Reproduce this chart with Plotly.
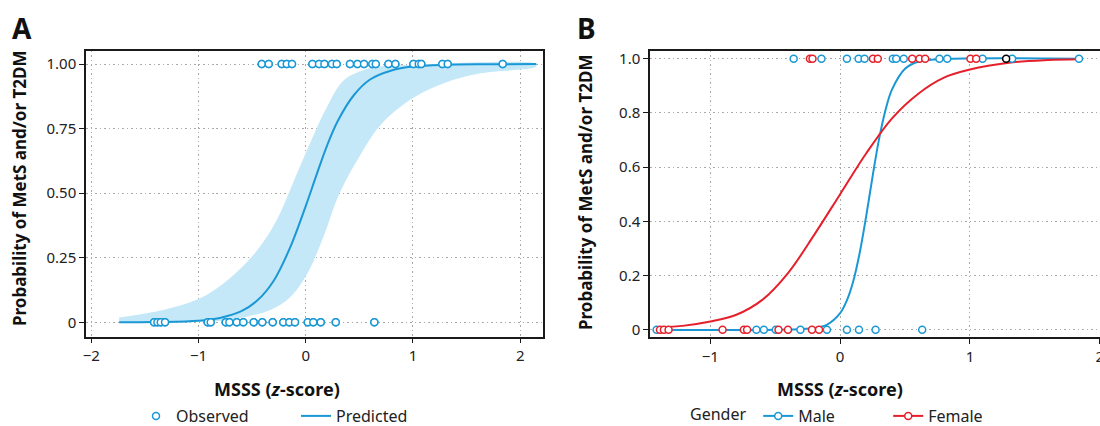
import plotly.graph_objects as go

# ---------------- Panel A data ----------------
obs_top_x = [-0.410, -0.345, -0.224, -0.177, -0.128, 0.062, 0.124, 0.174, 0.245, 0.289,
             0.413, 0.482, 0.544, 0.621, 0.653, 0.771, 0.836, 1.004, 1.054, 1.078,
             1.274, 1.324, 1.837]
obs_bot_x = [-1.414, -1.383, -1.352, -1.312, -0.914, -0.886, -0.746, -0.712, -0.643, -0.582,
             -0.485, -0.405, -0.308, -0.209, -0.153, -0.100, 0.019, 0.071, 0.140, 0.280, 0.640]

pred_x = [-1.74, -1.4, -1.0, -0.8, -0.6, -0.45, -0.3, -0.15, 0.0, 0.1, 0.2, 0.3, 0.45,
          0.6, 0.8, 1.0, 1.3, 1.7, 2.15]
pred_y = [0.000, 0.001, 0.006, 0.017, 0.043, 0.085, 0.160, 0.285, 0.450, 0.570, 0.685,
          0.780, 0.880, 0.940, 0.975, 0.990, 0.997, 0.999, 1.000]

band_up_x = [-1.74, -1.33, -0.99, -0.71, -0.46, -0.27, -0.12, 0.04, 0.20, 0.35, 0.51, 0.69, 1.0, 2.15]
band_up_y = [0.019, 0.048, 0.092, 0.170, 0.275, 0.396, 0.538, 0.693, 0.835, 0.935, 0.972, 0.990, 0.997, 1.0]
band_lo_x = [-1.74, -0.86, -0.55, -0.33, -0.15, 0.01, 0.16, 0.31, 0.50, 0.70, 1.0, 1.32, 1.63, 2.15]
band_lo_y = [0.0, 0.004, 0.022, 0.048, 0.095, 0.185, 0.325, 0.495, 0.641, 0.765, 0.868, 0.930, 0.964, 0.990]

# ---------------- Panel B data ----------------
male_top_x = [-0.358, -0.144, 0.052, 0.142, 0.188, 0.406, 0.432, 0.490, 0.765, 0.825, 1.097, 1.325, 1.840]
male_bot_x = [-1.414, -0.645, -0.588, -0.496, -0.306, -0.102, 0.052, 0.145, 0.273, 0.632]
fem_top_x = [-0.233, -0.213, 0.253, 0.290, 0.555, 0.611, 0.655, 1.004, 1.048, 1.279]
fem_bot_x = [-1.388, -1.358, -1.322, -0.906, -0.742, -0.717, -0.475, -0.402, -0.217, -0.163]

male_fit_x = [-1.414, -0.4, -0.2, -0.1, 0.0, 0.05, 0.1, 0.15, 0.2, 0.25, 0.3, 0.35, 0.4, 0.5, 0.6, 0.8, 1.84]
male_fit_y = [0.0, 0.0005, 0.006, 0.019, 0.061, 0.106, 0.177, 0.282, 0.417, 0.566, 0.704, 0.812,
              0.887, 0.963, 0.989, 0.999, 1.0]
fem_fit_x = [-1.414, -1.2, -1.0, -0.8, -0.6, -0.4, -0.2, 0.0, 0.2, 0.4, 0.6, 0.8, 1.0, 1.3, 1.6, 1.84]
fem_fit_y = [0.008, 0.015, 0.030, 0.055, 0.110, 0.210, 0.350, 0.500, 0.650, 0.780, 0.870, 0.930,
             0.960, 0.985, 0.995, 0.998]

x_ticks = [-2, -1, 0, 1, 2]
x_ticktext = ["\u22122", "\u22121", "0", "1", "2"]
a_yticks = [0, 0.25, 0.5, 0.75, 1.0]
a_yticktext = ["0", "0.25", "0.50", "0.75", "1.00"]
b_yticks = [0, 0.2, 0.4, 0.6, 0.8, 1.0]
b_yticktext = ["0", "0.2", "0.4", "0.6", "0.8", "1.0"]

BLUE = "#1a98d5"
BAND = "#c5e8f8"
RED = "#e5202b"
FONT = "Noto Sans"

fig = go.Figure()

# Panel A
fig.add_trace(go.Scatter(
    x=band_up_x + band_lo_x[::-1], y=band_up_y + band_lo_y[::-1],
    mode="lines", fill="toself", fillcolor=BAND, line=dict(width=0, shape="spline"),
    hoverinfo="skip", showlegend=False, xaxis="x", yaxis="y"))
fig.add_trace(go.Scatter(
    x=obs_bot_x + obs_top_x, y=[0] * len(obs_bot_x) + [1] * len(obs_top_x),
    mode="markers", name="Observed",
    marker=dict(symbol="circle", size=7, color="white", line=dict(color=BLUE, width=1.5)),
    xaxis="x", yaxis="y", legend="legend"))
fig.add_trace(go.Scatter(
    x=pred_x, y=pred_y, mode="lines", name="Predicted",
    line=dict(color=BLUE, width=2, shape="spline"),
    xaxis="x", yaxis="y", legend="legend"))
fig.add_trace(go.Scatter(
    x=obs_bot_x + obs_top_x, y=[0] * len(obs_bot_x) + [1] * len(obs_top_x),
    mode="markers", showlegend=False,
    marker=dict(symbol="circle", size=7, color="white", line=dict(color=BLUE, width=1.5)),
    xaxis="x", yaxis="y"))

# Panel B
fig.add_trace(go.Scatter(
    x=male_fit_x, y=male_fit_y, mode="lines", showlegend=False,
    line=dict(color=BLUE, width=2, shape="spline"), xaxis="x2", yaxis="y2"))
fig.add_trace(go.Scatter(
    x=fem_fit_x, y=fem_fit_y, mode="lines", showlegend=False,
    line=dict(color=RED, width=2, shape="spline"), xaxis="x2", yaxis="y2"))
fig.add_trace(go.Scatter(
    x=male_bot_x + male_top_x, y=[0] * len(male_bot_x) + [1] * len(male_top_x),
    mode="markers", showlegend=False,
    marker=dict(symbol="circle", size=7, color="white", line=dict(color=BLUE, width=1.5)),
    xaxis="x2", yaxis="y2"))
fem_colors = [RED] * (len(fem_bot_x) + len(fem_top_x) - 1) + ["black"]
fig.add_trace(go.Scatter(
    x=fem_bot_x + fem_top_x, y=[0] * len(fem_bot_x) + [1] * len(fem_top_x),
    mode="markers", showlegend=False,
    marker=dict(symbol="circle", size=7, color="white", line=dict(color=fem_colors, width=1.5)),
    xaxis="x2", yaxis="y2"))
fig.add_trace(go.Scatter(
    x=[None], y=[None], mode="lines+markers", name="Male",
    line=dict(color=BLUE, width=2),
    marker=dict(symbol="circle", size=7, color="white", line=dict(color=BLUE, width=1.5)),
    xaxis="x2", yaxis="y2", legend="legend2"))
fig.add_trace(go.Scatter(
    x=[None], y=[None], mode="lines+markers", name="Female",
    line=dict(color=RED, width=2),
    marker=dict(symbol="circle", size=7, color="white", line=dict(color=RED, width=1.5)),
    xaxis="x2", yaxis="y2", legend="legend2"))

W, H = 1100, 426


def px(x):
    return x / W


def py(y):
    return 1 - y / H


axis_common = dict(
    showline=True, mirror=True, linecolor="#1a1a1a", linewidth=1.5,
    ticks="outside", ticklen=5, tickwidth=1.2, tickcolor="#1a1a1a",
    showgrid=True, gridcolor="#a9a9a9", griddash="1.5px,3px", gridwidth=1,
    zeroline=False, automargin=False,
    tickfont=dict(family=FONT, size=15, color="#222"),
)

LEG_FONT = dict(family=FONT, size=16, color="#222")

fig.update_layout(
    width=W, height=H,
    margin=dict(l=0, r=0, t=0, b=0, autoexpand=False),
    paper_bgcolor="white", plot_bgcolor="white",
    font=dict(family=FONT, color="#222"),
    xaxis=dict(domain=[px(86), px(542.7)], range=[-2.049, 2.21], anchor="y",
               tickvals=x_ticks, ticktext=x_ticktext, **axis_common),
    yaxis=dict(domain=[py(336.7), py(50.7)], range=[-0.0557, 1.0515], anchor="x",
               tickvals=a_yticks, ticktext=a_yticktext, **axis_common),
    xaxis2=dict(domain=[px(650), 1.0], range=[-1.465, 2.002], anchor="y2",
                tickvals=x_ticks, ticktext=x_ticktext, ticklabeloverflow="allow", **axis_common),
    yaxis2=dict(domain=[py(337), py(50.7)], range=[-0.027, 1.0295], anchor="x2",
                tickvals=b_yticks, ticktext=b_yticktext, **axis_common),
    legend=dict(orientation="h", x=px(136), xanchor="left", y=-7 / H, yanchor="bottom",
                entrywidth=115, font=LEG_FONT, bgcolor="rgba(0,0,0,0)"),
    legend2=dict(orientation="h", x=px(688), xanchor="left", y=-7 / H, yanchor="bottom",
                 entrywidth=85, font=LEG_FONT, bgcolor="rgba(0,0,0,0)",
                 title=dict(text="Gender\u00a0", side="left", font=LEG_FONT)),
    annotations=[
        dict(text="<b>A</b>", x=px(10), y=py(28), xref="paper", yref="paper",
             xanchor="left", yanchor="middle", showarrow=False,
             font=dict(family=FONT, size=28, color="#111")),
        dict(text="<b>B</b>", x=px(575), y=py(28), xref="paper", yref="paper",
             xanchor="left", yanchor="middle", showarrow=False,
             font=dict(family=FONT, size=28, color="#111")),
        dict(text="<b>Probability of MetS and/or T2DM</b>", x=px(20), y=py(188),
             xref="paper", yref="paper", xanchor="center", yanchor="middle",
             textangle=-90, showarrow=False, font=dict(family=FONT, size=17, color="#111")),
        dict(text="<b>Probability of MetS and/or T2DM</b>", x=px(585), y=py(192),
             xref="paper", yref="paper", xanchor="center", yanchor="middle",
             textangle=-90, showarrow=False, font=dict(family=FONT, size=17, color="#111")),
        dict(text="<b>MSSS (<i>z</i>-score)</b>", x=px(277), y=py(389),
             xref="paper", yref="paper", xanchor="center", yanchor="middle",
             showarrow=False, font=dict(family=FONT, size=18, color="#111")),
        dict(text="<b>MSSS (<i>z</i>-score)</b>", x=px(840), y=py(389),
             xref="paper", yref="paper", xanchor="center", yanchor="middle",
             showarrow=False, font=dict(family=FONT, size=18, color="#111")),
    ],
)

fig.write_html("out.html", config={"displayModeBar": False},
               post_script="document.body.style.margin='0px';document.body.style.overflow='hidden';")
